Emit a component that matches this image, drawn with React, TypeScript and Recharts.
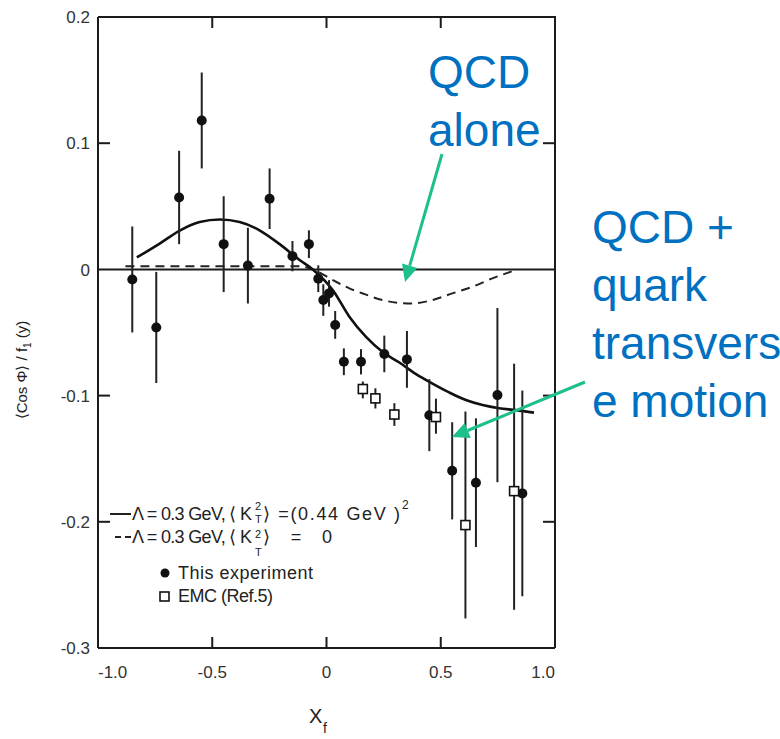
import React from "react";
import { ComposedChart, ErrorBar, Line, ReferenceLine, Scatter, XAxis, YAxis } from "recharts";

// this experiment (filled dots)
const expX = [-0.85, -0.745, -0.645, -0.546, -0.45, -0.344, -0.249, -0.149, -0.077, -0.036, -0.014, 0.011, 0.038, 0.076, 0.151, 0.253, 0.352, 0.45, 0.55, 0.654, 0.748, 0.857];
const expY = [-0.008, -0.046, 0.057, 0.118, 0.02, 0.003, 0.056, 0.0105, 0.02, -0.0074, -0.0243, -0.019, -0.044, -0.0732, -0.0732, -0.067, -0.0713, -0.1155, -0.1596, -0.169, -0.0996, -0.1775];
const expErr = [0.042, 0.044, 0.037, 0.038, 0.038, 0.03, 0.024, 0.012, 0.011, 0.0106, 0.0125, 0.0105, 0.011, 0.0106, 0.01, 0.0145, 0.0225, 0.0285, 0.0385, 0.051, 0.069, 0.0815];

// EMC (Ref.5), open squares, errors as [down, up]
const emcX = [0.159, 0.214, 0.297, 0.479, 0.608, 0.821];
const emcY = [-0.0948, -0.1022, -0.115, -0.117, -0.2026, -0.1757];
const emcErr = [[0.0074, 0.006], [0.008, 0.008], [0.009, 0.009], [0.0132, 0.0146], [0.074, 0.09], [0.094, 0.101]];

// Λ = 0.3 GeV, <kT²> = (0.44 GeV)²
const solidX = [-0.83, -0.73, -0.64, -0.555, -0.467, -0.38, -0.293, -0.205, -0.118, -0.06, 0.028, 0.1, 0.173, 0.246, 0.319, 0.392, 0.464, 0.537, 0.61, 0.683, 0.755, 0.828, 0.908];
const solidY = [0.0095, 0.0205, 0.031, 0.0375, 0.0395, 0.0375, 0.031, 0.02, 0.0075, 0.0, -0.0165, -0.0375, -0.0535, -0.0655, -0.0738, -0.083, -0.0905, -0.0975, -0.1035, -0.1075, -0.11, -0.1115, -0.1135];

// Λ = 0.3 GeV, <kT²> = 0
const dashX = [-0.88, -0.5, -0.118, -0.06, 0.028, 0.1, 0.17, 0.244, 0.317, 0.376, 0.463, 0.551, 0.638, 0.726, 0.82];
const dashY = [0.0025, 0.0025, 0.0025, 0.0, -0.0085, -0.015, -0.0198, -0.0243, -0.0265, -0.027, -0.0243, -0.019, -0.0138, -0.0071, -0.001];

const xTicks = [-1, -0.5, 0, 0.5, 1];
const xTickLabels = ["-1.0", "-0.5", "0", "0.5", "1.0"];
const yTicks = [-0.3, -0.2, -0.1, 0, 0.1, 0.2];
const yTickLabels = ["-0.3", "-0.2", "-0.1", "0", "0.1", "0.2"];
const innerX = [-0.5, 0, 0.5];
const innerY = [-0.2, -0.1, 0.1];

const expData = expX.map((x, i) => ({ x, y: expY[i], err: expErr[i] }));
const emcData = emcX.map((x, i) => ({ x, y: emcY[i], err: emcErr[i] }));
const solidData = solidX.map((x, i) => ({ x, y: solidY[i] }));
const dashData = dashX.map((x, i) => ({ x, y: dashY[i] }));

const INK = "#1b1b1b";
const BLUE = "#0070C0";
const GREEN = "#1DBF8C";
const FONT = "'Liberation Sans', Arial, sans-serif";

// chart box
const W = 780;
const H = 739;
const M = { top: 17, right: 225, bottom: 51, left: 0 };
const Y_W = 98;
const X_H = 40;
const PL = M.left + Y_W;
const PR = W - M.right;
const PT = M.top;
const PB = H - M.bottom - X_H;
const px = (v: number) => PL + ((v + 1) / 2) * (PR - PL);
const py = (v: number) => PT + ((0.2 - v) / 0.5) * (PB - PT);

const XTick = (p: any) => {
  const v = p.payload.value;
  const anchor = v === -1 ? "start" : v === 1 ? "end" : "middle";
  return (
    <text x={p.x} y={p.y} dy="0.71em" textAnchor={anchor} fontSize={17} fill="#333" fontFamily={FONT}>
      {xTickLabels[xTicks.indexOf(v)]}
    </text>
  );
};

const YTick = (p: any) => (
  <text x={p.x} y={p.y} dy="0.36em" textAnchor="end" fontSize={17} fill="#333" fontFamily={FONT}>
    {yTickLabels[yTicks.findIndex((t) => Math.abs(t - p.payload.value) < 1e-9)]}
  </text>
);

const Dot = (p: any) => <circle cx={p.cx} cy={p.cy} r={5} fill="#111" />;
const Box = (p: any) => (
  <rect x={p.cx - 4.5} y={p.cy - 4.5} width={9} height={9} fill="#fff" stroke="#111" strokeWidth={1.6} />
);

function Arrow({ x1, y1, x2, y2 }: { x1: number; y1: number; x2: number; y2: number }) {
  const dx = x2 - x1;
  const dy = y2 - y1;
  const len = Math.hypot(dx, dy);
  const ux = dx / len;
  const uy = dy / len;
  const hl = 17;
  const hw = 8;
  const bx = x2 - ux * hl;
  const by = y2 - uy * hl;
  const pts = `${x2},${y2} ${bx - uy * hw},${by + ux * hw} ${bx + uy * hw},${by - ux * hw}`;
  return (
    <g>
      <line x1={x1} y1={y1} x2={bx} y2={by} stroke={GREEN} strokeWidth={3} />
      <polygon points={pts} fill={GREEN} />
    </g>
  );
}

export default function App() {
  return (
    <div style={{ position: "absolute", left: 0, top: 0, width: W, height: H, overflow: "hidden", background: "#fff" }}>
      <ComposedChart width={W} height={H} margin={M}>
        <XAxis
          type="number"
          dataKey="x"
          domain={[-1, 1]}
          ticks={xTicks}
          interval={0}
          height={X_H}
          tickSize={0}
          tickMargin={18}
          tickLine={false}
          axisLine={{ stroke: INK, strokeWidth: 2 }}
          tick={XTick}
          allowDataOverflow
        />
        <YAxis
          type="number"
          dataKey="y"
          domain={[-0.3, 0.2]}
          ticks={yTicks}
          interval={0}
          width={Y_W}
          tickSize={0}
          tickMargin={8}
          tickLine={false}
          axisLine={{ stroke: INK, strokeWidth: 2 }}
          tick={YTick}
          allowDataOverflow
        />
        <ReferenceLine y={0} stroke={INK} strokeWidth={2} />
        <Line data={dashData} dataKey="y" type="monotone" dot={false} stroke="#222" strokeWidth={2} strokeDasharray="9 6" isAnimationActive={false} />
        <Line data={solidData} dataKey="y" type="monotone" dot={false} stroke="#111" strokeWidth={2.6} isAnimationActive={false} />
        <Scatter data={expData} dataKey="y" shape={Dot} isAnimationActive={false}>
          <ErrorBar dataKey="err" direction="y" width={0} stroke="#222" strokeWidth={2} isAnimationActive={false} />
        </Scatter>
        <Scatter data={emcData} dataKey="y" shape={Box} isAnimationActive={false}>
          <ErrorBar dataKey="err" direction="y" width={0} stroke="#222" strokeWidth={2} isAnimationActive={false} />
        </Scatter>
      </ComposedChart>

      <svg width={W} height={H} style={{ position: "absolute", left: 0, top: 0, pointerEvents: "none" }}>
        {/* frame (top and right) and inward ticks on all four sides */}
        <g stroke={INK} strokeWidth={2}>
          <line x1={PL} y1={PT} x2={PR + 1} y2={PT} />
          <line x1={PR} y1={PT} x2={PR} y2={PB} />
          {innerX.map((v) => (
            <g key={`x${v}`}>
              <line x1={px(v)} y1={PB} x2={px(v)} y2={PB - 11} />
              <line x1={px(v)} y1={PT} x2={px(v)} y2={PT + 11} />
            </g>
          ))}
          {innerY.map((v) => (
            <g key={`y${v}`}>
              <line x1={PL} y1={py(v)} x2={PL + 12} y2={py(v)} />
              <line x1={PR} y1={py(v)} x2={PR - 12} y2={py(v)} />
            </g>
          ))}
        </g>

        <g fontFamily={FONT} fill="#222">
          {/* inset legend */}
          <line x1={110} y1={514} x2={131} y2={514} stroke="#222" strokeWidth={2} />
          <text y={520} fontSize={18}>
            <tspan x={132} textLength={120} lengthAdjust="spacing">Λ = 0.3 GeV, ⟨ K</tspan>
            <tspan x={255} y={510} fontSize={11}>2</tspan>
            <tspan x={255} y={523} fontSize={11}>T</tspan>
            <tspan x={263} y={520} textLength={137} lengthAdjust="spacing">⟩ =(0.44 GeV )</tspan>
            <tspan x={402} y={509} fontSize={12}>2</tspan>
          </text>

          <line x1={115} y1={537} x2={131} y2={537} stroke="#222" strokeWidth={2} strokeDasharray="6 4" />
          <text y={543} fontSize={18}>
            <tspan x={132} textLength={120} lengthAdjust="spacing">Λ = 0.3 GeV, ⟨ K</tspan>
            <tspan x={255} y={538} fontSize={11}>2</tspan>
            <tspan x={255} y={556} fontSize={11}>T</tspan>
            <tspan x={263} y={543} textLength={69} lengthAdjust="spacing">⟩   = 0</tspan>
          </text>

          <circle cx={165} cy={573} r={4.5} fill="#111" />
          <text x={178} y={579} fontSize={18} textLength={135} lengthAdjust="spacing">This experiment</text>
          <rect x={160} y={592} width={9} height={9} fill="#fff" stroke="#111" strokeWidth={1.6} />
          <text x={178} y={602} fontSize={18} textLength={95} lengthAdjust="spacing">EMC (Ref.5)</text>

          {/* axis titles */}
          <text y={723}>
            <tspan x={309} fontSize={20}>X</tspan>
            <tspan x={323} y={733} fontSize={14}>f</tspan>
          </text>
          <text x={27} y={370} fontSize={15} textAnchor="middle" transform="rotate(-90 27 370)">
            ⟨Cos Φ⟩ / f<tspan dy={4} fontSize={10}>1</tspan><tspan dy={-4}> (y)</tspan>
          </text>
        </g>

        {/* annotations */}
        <g fontFamily={FONT} fill={BLUE} fontSize={46}>
          <text x={428} y={88}>QCD</text>
          <text x={428} y={146}>alone</text>
          <text x={592} y={243}>QCD +</text>
          <text x={592} y={301}>quark</text>
          <text x={592} y={359}>transvers</text>
          <text x={592} y={417}>e motion</text>
        </g>
        <Arrow x1={442} y1={154} x2={405} y2={282} />
        <Arrow x1={585} y1={382} x2={452} y2={437} />
      </svg>
    </div>
  );
}
